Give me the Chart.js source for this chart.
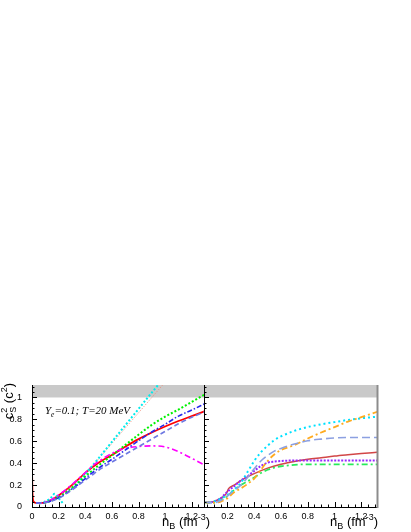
<!DOCTYPE html>
<html><head><meta charset="utf-8">
<script src="https://cdn.jsdelivr.net/npm/chart.js@4"></script>
<style>
html,body{margin:0;padding:0;background:#fff;}
#wrap{position:relative;width:411px;height:532px;}
canvas{position:absolute;left:0;top:0;}
</style></head><body>
<div id="wrap">
<canvas id="cl" width="411" height="532"></canvas>
<canvas id="cr" width="411" height="532"></canvas>
</div>
<script>
// ---------- data ----------
// left panel
const nB_L      = [0, 0.004, 0.012, 0.03, 0.06, 0.1, 0.15, 0.2, 0.25, 0.3, 0.35, 0.4, 0.45, 0.5, 0.6, 0.7, 0.8, 0.9, 1.0, 1.1, 1.2, 1.3];
const red_L     = [0.35, 0.12, 0.05, 0.037, 0.035, 0.042, 0.068, 0.105, 0.15, 0.2, 0.255, 0.31, 0.36, 0.405, 0.475, 0.55, 0.62, 0.68, 0.735, 0.785, 0.83, 0.875];
const green_L   = [null, null, null, 0.037, 0.035, 0.04, 0.06, 0.09, 0.13, 0.175, 0.225, 0.28, 0.33, 0.38, 0.47, 0.565, 0.66, 0.75, 0.825, 0.89, 0.96, 1.03];
const blue_L    = [null, null, null, 0.037, 0.035, 0.04, 0.058, 0.085, 0.12, 0.165, 0.21, 0.26, 0.31, 0.355, 0.435, 0.52, 0.605, 0.685, 0.755, 0.83, 0.885, 0.945];
const slate_L   = [null, null, null, 0.037, 0.035, 0.04, 0.056, 0.08, 0.115, 0.155, 0.2, 0.245, 0.29, 0.335, 0.41, 0.48, 0.55, 0.62, 0.69, 0.76, 0.82, 0.87];
const magenta_L = [null, null, null, 0.037, 0.035, 0.045, 0.07, 0.11, 0.155, 0.205, 0.26, 0.315, 0.37, 0.415, 0.49, 0.535, 0.552, 0.558, 0.548, 0.505, 0.445, 0.38];
const cyanX_L   = [0.03, 0.06, 0.1, 0.14, 0.17, 0.2, 0.235, 0.26, 0.3, 0.35, 0.4, 0.5, 0.6, 0.7, 0.8, 0.9, 1.0];
const cyan_L    = [0.037, 0.036, 0.05, 0.08, 0.12, 0.08, 0.03, null, 0.17, 0.23, 0.30, 0.445, 0.595, 0.745, 0.895, 1.045, 1.19];
const salmonX_L = [0.25, 0.3, 0.35, 0.4, 0.5, 0.6, 0.7, 0.8, 0.9, 1.0];
const salmon_L  = [0.15, 0.19, 0.245, 0.305, 0.44, 0.58, 0.72, 0.86, 1.0, 1.14];

// right panel
const nB_R      = [0.025, 0.06, 0.1, 0.15, 0.2, 0.25, 0.3, 0.35, 0.4, 0.45, 0.5, 0.55, 0.6, 0.7, 0.8, 0.9, 1.0, 1.1, 1.2, 1.32];
const cyan_R    = [0.045, 0.04, 0.05, 0.075, 0.11, 0.16, 0.22, 0.32, 0.42, 0.5, 0.56, 0.61, 0.645, 0.695, 0.73, 0.755, 0.775, 0.795, 0.81, 0.825];
const orange_R  = [0.045, 0.04, 0.04, 0.05, 0.08, 0.135, 0.17, 0.21, 0.26, 0.34, 0.42, 0.48, 0.52, 0.565, 0.625, 0.68, 0.73, 0.78, 0.82, 0.87];
const slate_R   = [0.045, 0.04, 0.04, 0.06, 0.1, 0.15, 0.2, 0.27, 0.35, 0.42, 0.47, 0.51, 0.535, 0.575, 0.605, 0.62, 0.63, 0.635, 0.635, 0.635];
const purple_R  = [0.045, 0.04, 0.05, 0.08, 0.14, 0.19, 0.24, 0.28, 0.33, 0.375, 0.405, 0.415, 0.42, 0.425, 0.425, 0.425, 0.425, 0.425, 0.425, 0.425];
const green_R   = [0.045, 0.04, 0.04, 0.06, 0.1, 0.155, 0.2, 0.235, 0.27, 0.31, 0.34, 0.36, 0.372, 0.385, 0.39, 0.39, 0.39, 0.39, 0.39, 0.39];
const redX_R    = [0.025, 0.06, 0.1, 0.15, 0.19, 0.21, 0.25, 0.3, 0.35, 0.4, 0.5, 0.6, 0.7, 0.8, 0.9, 1.0, 1.1, 1.2, 1.32];
const red_R     = [0.045, 0.04, 0.05, 0.08, 0.12, 0.17, 0.2, 0.24, 0.275, 0.305, 0.355, 0.39, 0.415, 0.435, 0.45, 0.465, 0.477, 0.488, 0.5];

// axis ranges / ticks
const yMin = 0, yMax = 1.114, yStep = 0.2, yMinor = 0.05;
const xL_min = 0, xL_max = 1.292;
const xR_min = 0.025, xR_max = 1.317;
const xStep = 0.2, xMinor = 0.05;
const bandFrom = 1.0;

// ---------- helpers ----------
const pts = (xs, ys) => xs.map((x, i) => ({x: x, y: ys[i]}));
function ds(xs, ys, color, width, dash) {
  return {data: pts(xs, ys), borderColor: color, borderWidth: width, borderDash: dash || [],
          pointRadius: 0, fill: false, cubicInterpolationMode: 'monotone', spanGaps: false};
}
const fmt = v => String(Math.round(v * 100) / 100);

function drawRich(ctx, parts, x, y, align) {
  let total = 0, pend = 0;
  const widths = parts.map(p => { ctx.font = p.f; return ctx.measureText(p.t).width; });
  parts.forEach((p, i) => {
    if (p.noAdv) { pend = widths[i]; }
    else { total += Math.max(widths[i], pend); pend = 0; }
  });
  let cx = align === 'right' ? x - total : x;
  pend = 0;
  parts.forEach((p, i) => {
    ctx.font = p.f;
    ctx.fillText(p.t, cx, y + (p.dy || 0));
    if (p.noAdv) { pend = widths[i]; }
    else { cx += Math.max(widths[i], pend); pend = 0; }
  });
}

const SANS = '"Liberation Sans", Arial, sans-serif';
const SERIF = '"Liberation Serif", "Times New Roman", serif';

const frame = {
  id: 'frame',
  beforeDatasetsDraw(chart) {
    const {ctx, chartArea: a, scales: {y}} = chart;
    ctx.save();
    ctx.fillStyle = '#c9c9c9';
    const y1 = y.getPixelForValue(bandFrom);
    ctx.fillRect(a.left, a.top, a.right - a.left, y1 - a.top);
    ctx.restore();
  },
  afterDraw(chart, args, o) {
    const {ctx, chartArea: a, scales: {x, y}} = chart;
    ctx.save();
    ctx.strokeStyle = '#000';
    ctx.lineWidth = 1;
    ctx.beginPath();
    ctx.moveTo(a.left + 0.5, a.top); ctx.lineTo(a.left + 0.5, a.bottom + 0.5);
    ctx.moveTo(a.left, a.bottom + 0.5); ctx.lineTo(a.right, a.bottom + 0.5);
    for (let k = 0; ; k++) {
      const v = yMin + k * yMinor;
      if (v > yMax + 1e-9) break;
      const major = Math.abs(v / yStep - Math.round(v / yStep)) < 1e-6;
      const py = Math.round(y.getPixelForValue(v)) + 0.5;
      ctx.moveTo(a.left, py); ctx.lineTo(a.left + (major ? 5 : 2.5), py);
    }
    const xmin = x.min, xmax = x.max;
    for (let k = Math.ceil(xmin / xMinor - 1e-6); ; k++) {
      const v = k * xMinor;
      if (v > xmax + 1e-9) break;
      const major = Math.abs(v / xStep - Math.round(v / xStep)) < 1e-6;
      const px = Math.round(x.getPixelForValue(v)) + 0.5;
      ctx.moveTo(px, a.bottom); ctx.lineTo(px, a.bottom - (major ? 5 : 2.5));
    }
    ctx.stroke();
    if (o.rightBorder) {
      ctx.strokeStyle = '#8c8c8c';
      ctx.lineWidth = 2;
      ctx.beginPath();
      ctx.moveTo(a.right + 0.5, a.top); ctx.lineTo(a.right + 0.5, a.bottom + 1);
      ctx.stroke();
    }
    ctx.fillStyle = '#000';
    ctx.textBaseline = 'alphabetic';
    drawRich(ctx, [
      {t: 'n', f: '13px ' + SANS},
      {t: 'B', f: '9px ' + SANS, dy: 3},
      {t: ' (fm', f: '13px ' + SANS},
      {t: '-3', f: '9px ' + SANS, dy: -6},
      {t: ')', f: '13px ' + SANS}
    ], o.xTitleRight, 526, 'right');
    if (o.yTitle) {
      ctx.save();
      ctx.translate(12.5, 383);
      ctx.rotate(-Math.PI / 2);
      drawRich(ctx, [
        {t: 'c', f: '13px ' + SANS},
        {t: 'S', f: '9px ' + SANS, dy: 3, noAdv: true},
        {t: '2', f: '9px ' + SANS, dy: -6},
        {t: ' (c', f: '13px ' + SANS},
        {t: '2', f: '9px ' + SANS, dy: -6},
        {t: ')', f: '13px ' + SANS}
      ], 0, 0, 'right');
      ctx.restore();
    }
    if (o.note) {
      ctx.fillStyle = '#000';
      drawRich(ctx, [
        {t: 'Y', f: 'italic 11px ' + SERIF},
        {t: 'e', f: 'italic 7.5px ' + SERIF, dy: 2.5},
        {t: '=0.1; T=20 MeV', f: 'italic 11px ' + SERIF}
      ], 45, 414, 'left');
    }
    ctx.restore();
  }
};

const tickFont = {family: SANS, size: 9};

const left = new Chart(document.getElementById('cl'), {
  type: 'line',
  data: {datasets: [
    ds(nB_L, slate_L, 'rgb(110,120,225)', 1.6, [5, 3]),
    ds(nB_L, blue_L, 'rgb(40,40,235)', 1.6, [5, 2, 1.5, 2]),
    ds(nB_L, magenta_L, 'rgb(255,0,255)', 1.6, [6, 3, 2, 3]),
    ds(nB_L, green_L, 'rgb(0,240,0)', 2, [2, 2]),
    ds(cyanX_L, cyan_L, 'rgb(0,235,235)', 2, [2, 2]),
    ds(salmonX_L, salmon_L, 'rgb(238,140,120)', 1, [1, 1.5]),
    ds(nB_L, red_L, 'rgb(255,0,0)', 1.8)
  ]},
  options: {
    responsive: false, animation: false, events: [],
    layout: {padding: {left: 0, right: 207, top: 385, bottom: 0}},
    plugins: {legend: {display: false}, tooltip: {enabled: false},
      frame: {xTitleRight: 210, yTitle: true, note: true}},
    scales: {
      x: {type: 'linear', min: xL_min, max: xL_max, grid: {display: false}, border: {display: false},
          ticks: {stepSize: xStep, includeBounds: false, autoSkip: false, maxRotation: 0, padding: -4, font: tickFont, color: '#000', callback: fmt},
          afterFit(s) { s.height = 25; }},
      y: {type: 'linear', min: yMin, max: yMax, grid: {display: false}, border: {display: false},
          ticks: {stepSize: yStep, includeBounds: false, autoSkip: false, padding: 2, font: tickFont, color: '#000', callback: fmt},
          afterFit(s) { s.width = 32; }}
    }
  },
  plugins: [frame]
});

const right = new Chart(document.getElementById('cr'), {
  type: 'line',
  data: {datasets: [
    ds(nB_R, slate_R, 'rgb(140,160,225)', 1.6, [8, 4]),
    ds(nB_R, orange_R, 'rgb(255,170,30)', 1.8, [6, 3, 2, 3]),
    ds(nB_R, cyan_R, 'rgb(0,225,255)', 2, [2, 3]),
    ds(nB_R, green_R, 'rgb(40,235,90)', 1.8, [6, 3, 2, 3]),
    ds(nB_R, purple_R, 'rgb(150,40,255)', 2, [2, 1.5]),
    ds(redX_R, red_R, 'rgb(210,70,70)', 1.5)
  ]},
  options: {
    responsive: false, animation: false, events: [],
    layout: {padding: {left: 204, right: 34, top: 385, bottom: 0}},
    plugins: {legend: {display: false}, tooltip: {enabled: false},
      frame: {xTitleRight: 378, rightBorder: true}},
    scales: {
      x: {type: 'linear', min: xR_min, max: xR_max, grid: {display: false}, border: {display: false},
          ticks: {stepSize: xStep, includeBounds: false, autoSkip: false, maxRotation: 0, padding: -4, font: tickFont, color: '#000', callback: fmt},
          afterFit(s) { s.height = 25; }},
      y: {type: 'linear', display: false, min: yMin, max: yMax}
    }
  },
  plugins: [frame]
});
</script>
</body></html>
